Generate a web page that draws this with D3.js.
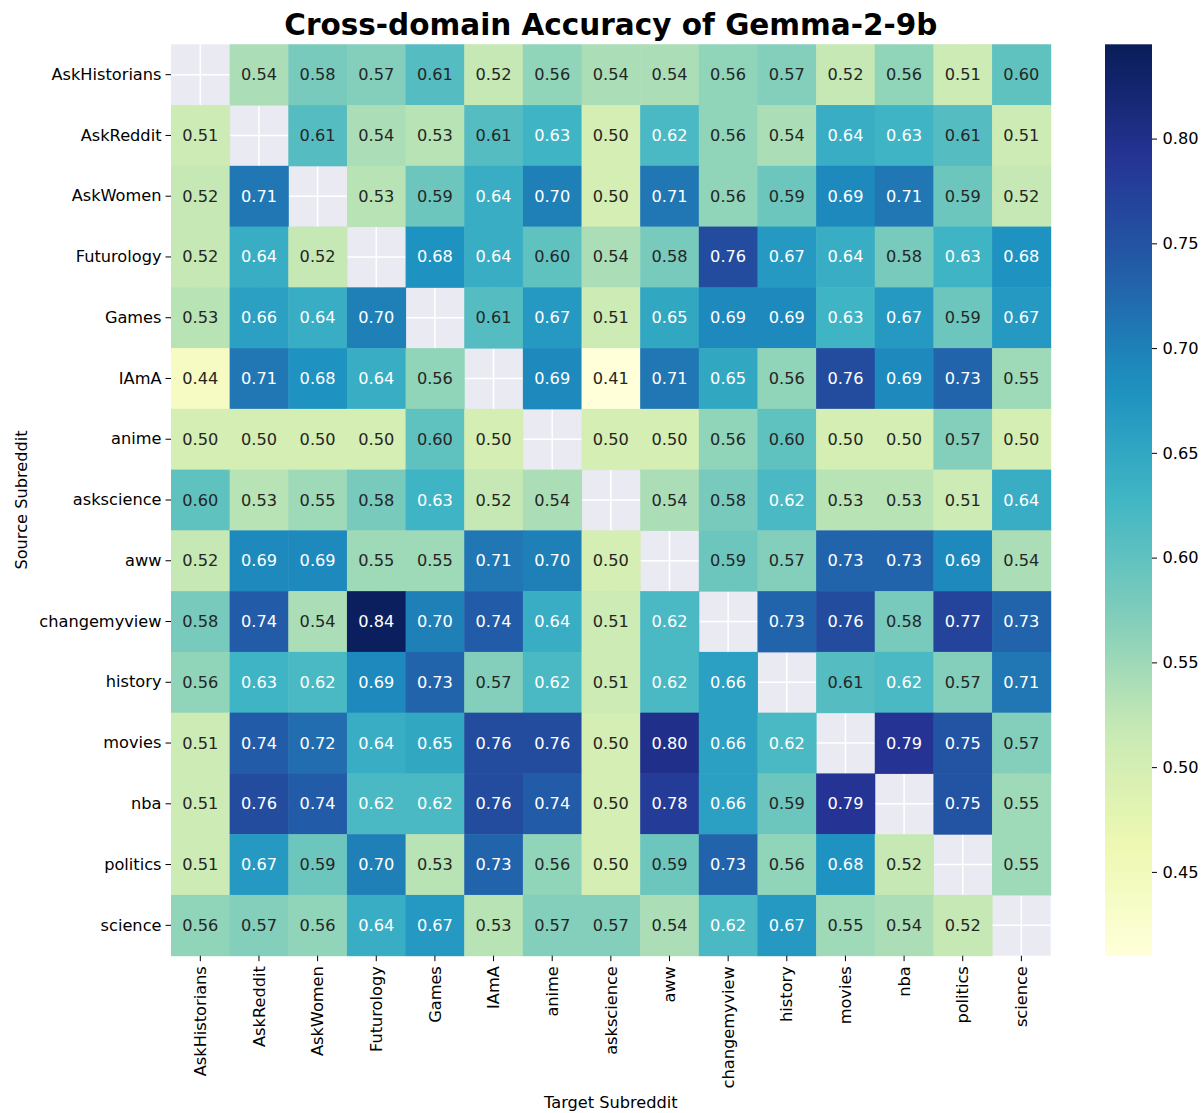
<!DOCTYPE html>
<html>
<head>
<meta charset="utf-8">
<title>Cross-domain Accuracy of Gemma-2-9b</title>
<script src="https://cdnjs.cloudflare.com/ajax/libs/d3/7.8.5/d3.min.js"></script>
<style>
  body { margin: 0; background: #fff; }
  svg { font-family: "DejaVu Sans", sans-serif; }
</style>
</head>
<body>
<svg id="chart" width="1202" height="1113"></svg>
<script>
// subreddits, same order for source rows and target columns
var subreddits = ['AskHistorians', 'AskReddit', 'AskWomen', 'Futurology', 'Games', 'IAmA', 'anime',
  'askscience', 'aww', 'changemyview', 'history', 'movies', 'nba', 'politics', 'science'];

// accuracy, one row per source subreddit (null = same domain)
var rowAskHistorians = [null, .54, .58, .57, .61, .52, .56, .54, .54, .56, .57, .52, .56, .51, .60];
var rowAskReddit     = [.51, null, .61, .54, .53, .61, .63, .50, .62, .56, .54, .64, .63, .61, .51];
var rowAskWomen      = [.52, .71, null, .53, .59, .64, .70, .50, .71, .56, .59, .69, .71, .59, .52];
var rowFuturology    = [.52, .64, .52, null, .68, .64, .60, .54, .58, .76, .67, .64, .58, .63, .68];
var rowGames         = [.53, .66, .64, .70, null, .61, .67, .51, .65, .69, .69, .63, .67, .59, .67];
var rowIAmA          = [.44, .71, .68, .64, .56, null, .69, .41, .71, .65, .56, .76, .69, .73, .55];
var rowAnime         = [.50, .50, .50, .50, .60, .50, null, .50, .50, .56, .60, .50, .50, .57, .50];
var rowAskscience    = [.60, .53, .55, .58, .63, .52, .54, null, .54, .58, .62, .53, .53, .51, .64];
var rowAww           = [.52, .69, .69, .55, .55, .71, .70, .50, null, .59, .57, .73, .73, .69, .54];
var rowChangemyview  = [.58, .74, .54, .84, .70, .74, .64, .51, .62, null, .73, .76, .58, .77, .73];
var rowHistory       = [.56, .63, .62, .69, .73, .57, .62, .51, .62, .66, null, .61, .62, .57, .71];
var rowMovies        = [.51, .74, .72, .64, .65, .76, .76, .50, .80, .66, .62, null, .79, .75, .57];
var rowNba           = [.51, .76, .74, .62, .62, .76, .74, .50, .78, .66, .59, .79, null, .75, .55];
var rowPolitics      = [.51, .67, .59, .70, .53, .73, .56, .50, .59, .73, .56, .68, .52, null, .55];
var rowScience       = [.56, .57, .56, .64, .67, .53, .57, .57, .54, .62, .67, .55, .54, .52, null];

var rows = [rowAskHistorians, rowAskReddit, rowAskWomen, rowFuturology, rowGames, rowIAmA, rowAnime,
  rowAskscience, rowAww, rowChangemyview, rowHistory, rowMovies, rowNba, rowPolitics, rowScience];

var cbarTicks = [0.45, 0.50, 0.55, 0.60, 0.65, 0.70, 0.75, 0.80];
var vmin = 0.41, vmax = 0.845;

// matplotlib YlGnBu stops
var ylgnbu = ['#ffffd9', '#edf8b1', '#c7e9b4', '#7fcdbb', '#41b6c4', '#1d91c0', '#225ea8', '#253494', '#081d58'];
var interp = d3.piecewise(d3.interpolateRgb, ylgnbu);
var color = function (v) { return interp(Math.max(0, Math.min(1, (v - vmin) / (vmax - vmin)))); };

function lum(c) {
  var rgb = d3.rgb(c);
  var f = function (x) { x = x / 255; return x <= 0.03928 ? x / 12.92 : Math.pow((x + 0.055) / 1.055, 2.4); };
  return 0.2126 * f(rgb.r) + 0.7152 * f(rgb.g) + 0.0722 * f(rgb.b);
}

var cells = [];
rows.forEach(function (r, i) {
  r.forEach(function (v, j) {
    cells.push({ src: subreddits[i], tgt: subreddits[j], v: v });
  });
});

var svg = d3.select('#chart');
var mLeft = 171, mTop = 44.3, W = 879.7, H = 911.4;
var fs = 16.2;

var x = d3.scaleBand().domain(subreddits).range([mLeft, mLeft + W]);
var y = d3.scaleBand().domain(subreddits).range([mTop, mTop + H]);

// seaborn style background + grid (shows through masked cells)
svg.append('rect').attr('x', mLeft).attr('y', mTop).attr('width', W).attr('height', H).attr('fill', '#eaeaf2');
var grid = svg.append('g');
subreddits.forEach(function (s) {
  grid.append('line').attr('x1', x(s) + x.bandwidth() / 2).attr('x2', x(s) + x.bandwidth() / 2)
    .attr('y1', mTop).attr('y2', mTop + H).attr('stroke', '#fff').attr('stroke-width', 1.5);
  grid.append('line').attr('y1', y(s) + y.bandwidth() / 2).attr('y2', y(s) + y.bandwidth() / 2)
    .attr('x1', mLeft).attr('x2', mLeft + W).attr('stroke', '#fff').attr('stroke-width', 1.5);
});

var data = cells.filter(function (d) { return d.v !== null; });

svg.append('g').selectAll('rect').data(data).enter().append('rect')
  .attr('x', function (d) { return x(d.tgt); })
  .attr('y', function (d) { return y(d.src); })
  .attr('width', x.bandwidth() + 0.5)
  .attr('height', y.bandwidth() + 0.5)
  .attr('fill', function (d) { return color(d.v); });

svg.append('g').selectAll('text').data(data).enter().append('text')
  .attr('x', function (d) { return x(d.tgt) + x.bandwidth() / 2; })
  .attr('y', function (d) { return y(d.src) + y.bandwidth() / 2; })
  .attr('text-anchor', 'middle')
  .attr('dominant-baseline', 'central')
  .attr('font-size', fs)
  .attr('fill', function (d) { return lum(color(d.v)) > 0.408 ? '#262626' : '#ffffff'; })
  .text(function (d) { return d.v.toFixed(2); });

// axes
var xAxis = svg.append('g').attr('transform', 'translate(0,' + (mTop + H) + ')')
  .call(d3.axisBottom(x).tickSize(5.5).tickPadding(5));
xAxis.select('.domain').remove();
xAxis.selectAll('text')
  .attr('font-size', fs).attr('font-family', 'DejaVu Sans').attr('fill', '#000')
  .attr('transform', 'rotate(-90)')
  .attr('text-anchor', 'end')
  .attr('x', -10.5).attr('y', 0).attr('dy', '0.35em');

var yAxis = svg.append('g').attr('transform', 'translate(' + mLeft + ',0)')
  .call(d3.axisLeft(y).tickSize(5.5).tickPadding(4));
yAxis.select('.domain').remove();
yAxis.selectAll('text').attr('font-size', fs).attr('font-family', 'DejaVu Sans').attr('fill', '#000');

// colorbar
var cbX = 1105, cbW = 47;
var cy = d3.scaleLinear().domain([vmin, vmax]).range([mTop + H, mTop]);
var defs = svg.append('defs');
var grad = defs.append('linearGradient').attr('id', 'cbar')
  .attr('x1', 0).attr('y1', 1).attr('x2', 0).attr('y2', 0);
d3.range(0, 1.0001, 0.02).forEach(function (t) {
  grad.append('stop').attr('offset', t).attr('stop-color', interp(t));
});
svg.append('rect').attr('x', cbX).attr('y', mTop).attr('width', cbW).attr('height', H).attr('fill', 'url(#cbar)');
var cAxis = svg.append('g').attr('transform', 'translate(' + (cbX + cbW) + ',0)')
  .call(d3.axisRight(cy).tickValues(cbarTicks).tickFormat(d3.format('.2f')).tickSize(5).tickPadding(5.5));
cAxis.select('.domain').remove();
cAxis.selectAll('text').attr('font-size', fs).attr('font-family', 'DejaVu Sans').attr('fill', '#000');

// titles
svg.append('text').attr('x', mLeft + W / 2).attr('y', 35).attr('text-anchor', 'middle')
  .attr('font-size', 29.5).attr('font-weight', 'bold').text('Cross-domain Accuracy of Gemma-2-9b');
svg.append('text').attr('x', mLeft + W / 2).attr('y', 1108).attr('text-anchor', 'middle')
  .attr('font-size', fs).text('Target Subreddit');
svg.append('text').attr('transform', 'translate(27,' + (mTop + H / 2) + ') rotate(-90)')
  .attr('text-anchor', 'middle').attr('font-size', fs).text('Source Subreddit');
</script>
</body>
</html>
